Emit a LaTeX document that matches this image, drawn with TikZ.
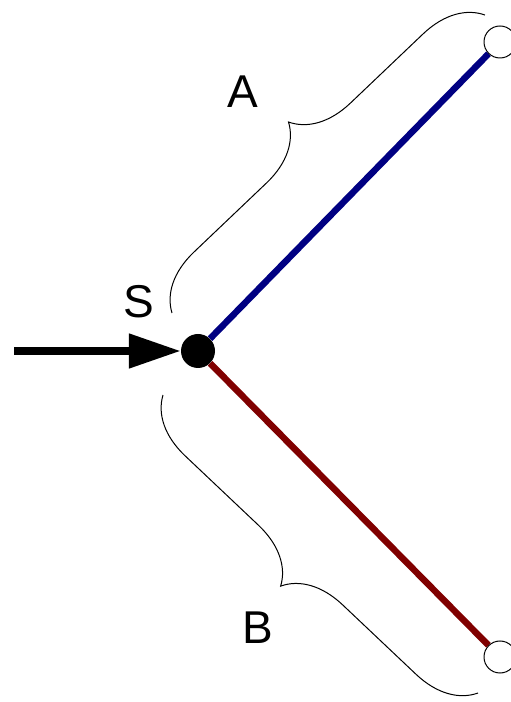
\documentclass[tikz,border=0pt]{standalone}
\usepackage{fontspec}
\setmainfont{Liberation Sans}
\usetikzlibrary{arrows.meta,decorations.pathreplacing}
\definecolor{arma}{RGB}{0,0,130}
\definecolor{armb}{RGB}{128,0,0}
\tikzset{
	endpt/.style={circle,draw,fill=white,line width=1pt,inner sep=0pt,minimum size=32pt},
	brc/.style={decorate,decoration={brace,amplitude=58pt},line width=1pt},
	lbl/.style={font=\fontsize{46}{46}\selectfont}
}
\begin{document}
\begin{tikzpicture}[x=1pt,y=1pt]
	\useasboundingbox (0,0) rectangle (511,702);
	\node[circle,fill=black,inner sep=0pt,minimum size=34pt] (S) at (198,351) {};
	\node[endpt] (TA) at (500,660) {};
	\node[endpt] (TB) at (500,45) {};
	\coordinate (in) at (14,351);
	% arms
	\draw[arma,line width=6.5pt] (S) -- (TA);
	\draw[armb,line width=6.5pt] (S) -- (TB);
	\draw[line width=8pt,-{Triangle[length=52pt,width=33pt]}] (in) -- (S);
	% braces
	\coordinate (a1) at (172,389);
	\coordinate (a2) at (485,687);
	\coordinate (b1) at (478,9);
	\coordinate (b2) at (163,307);
	\draw[brc] (a1) -- (a2);
	\draw[brc] (b1) -- (b2);
	\node[lbl] (lA) at (243,610) {A};
	\node[lbl] (lS) at (139,400) {S};
	\node[lbl] (lB) at (258,74) {B};
\end{tikzpicture}
\end{document}
